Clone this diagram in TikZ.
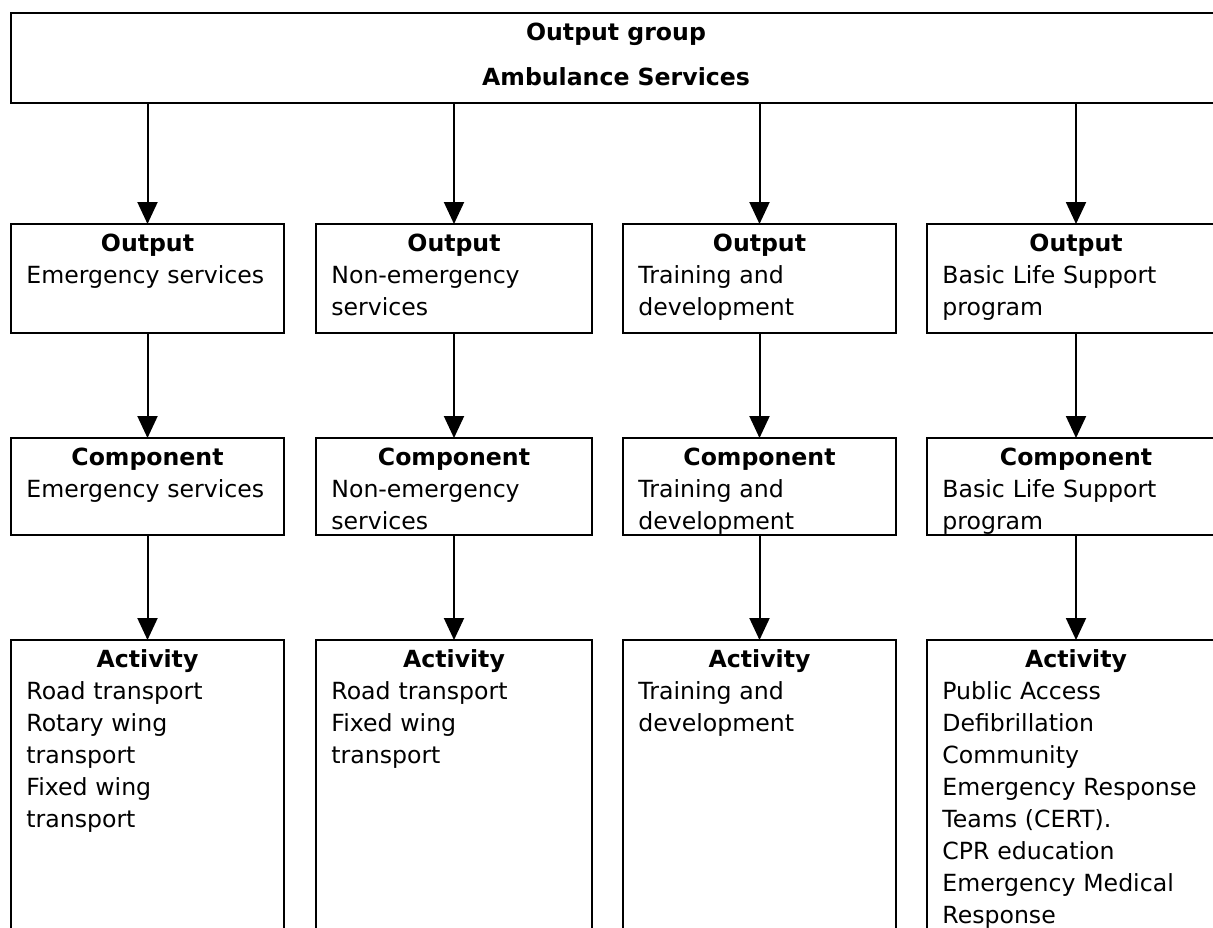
\documentclass[tikz,border=0pt]{standalone}
\usepackage{fontspec}
\setmainfont{DejaVu Sans}
\usetikzlibrary{arrows.meta,positioning}

\begin{document}
\begin{tikzpicture}[x=0.5pt,y=-0.5pt,
    font=\fontsize{11.8pt}{16pt}\selectfont,
    box/.style={draw,line width=1.1pt,rectangle,anchor=north west,inner sep=0pt,outer sep=0pt},
    head/.style={anchor=base,inner sep=0pt,font=\fontsize{11.8pt}{16pt}\selectfont\bfseries},
    body/.style={anchor=base west,align=left,inner sep=0pt,text width=140pt},
    link/.style={line width=1pt,-{Triangle[length=11pt,width=10pt]}}]
    \clip (0,0) rectangle (1213,927);

    % output group
    \node[box,minimum width=614.5pt,minimum height=45pt] (grp) at (11,13) {};
    \node[head] (grpt) at (616,40) {Output group};
    \node[head] (grpn) at (616,85) {Ambulance Services};

    % outputs
    \node[box,minimum width=136.5pt,minimum height=54.5pt] (out1) at (11,224) {};
    \node[box,minimum width=138pt,minimum height=54.5pt] (out2) at (316,224) {};
    \node[box,minimum width=136.5pt,minimum height=54.5pt] (out3) at (623,224) {};
    \node[box,minimum width=149pt,minimum height=54.5pt] (out4) at (927,224) {};

    % components
    \node[box,minimum width=136.5pt,minimum height=48.5pt] (cmp1) at (11,438) {};
    \node[box,minimum width=138pt,minimum height=48.5pt] (cmp2) at (316,438) {};
    \node[box,minimum width=136.5pt,minimum height=48.5pt] (cmp3) at (623,438) {};
    \node[box,minimum width=149pt,minimum height=48.5pt] (cmp4) at (927,438) {};

    % activities
    \node[box,minimum width=136.5pt,minimum height=160pt] (act1) at (11,640) {};
    \node[box,minimum width=138pt,minimum height=160pt] (act2) at (316,640) {};
    \node[box,minimum width=136.5pt,minimum height=160pt] (act3) at (623,640) {};
    \node[box,minimum width=149pt,minimum height=160pt] (act4) at (927,640) {};

    \foreach \c in {1,...,4} {
        \node[head] (out\c h) at ([yshift=-13.75pt]out\c.north) {Output};
        \node[head] (cmp\c h) at ([yshift=-13.75pt]cmp\c.north) {Component};
        \node[head] (act\c h) at ([yshift=-13.75pt]act\c.north) {Activity};
        \draw[link] (grp.south -| out\c.north) -- (out\c.north);
        \draw[link] (out\c) -- (cmp\c);
        \draw[link] (cmp\c) -- (act\c);
    }

    % texts
    \node[body] (out1t) at ([shift={(7.5pt,-29.75pt)}]out1.north west) {Emergency services};
    \node[body] (out2t) at ([shift={(7.5pt,-29.75pt)}]out2.north west) {Non-emergency\\services};
    \node[body] (out3t) at ([shift={(7.5pt,-29.75pt)}]out3.north west) {Training and\\development};
    \node[body] (out4t) at ([shift={(7.5pt,-29.75pt)}]out4.north west) {Basic Life Support\\program};

    \node[body] (cmp1t) at ([shift={(7.5pt,-29.75pt)}]cmp1.north west) {Emergency services};
    \node[body] (cmp2t) at ([shift={(7.5pt,-29.75pt)}]cmp2.north west) {Non-emergency\\services};
    \node[body] (cmp3t) at ([shift={(7.5pt,-29.75pt)}]cmp3.north west) {Training and\\development};
    \node[body] (cmp4t) at ([shift={(7.5pt,-29.75pt)}]cmp4.north west) {Basic Life Support\\program};

    \node[body] (act1t) at ([shift={(7.5pt,-29.75pt)}]act1.north west) {Road transport\\Rotary wing\\transport\\Fixed wing\\transport};
    \node[body] (act2t) at ([shift={(7.5pt,-29.75pt)}]act2.north west) {Road transport\\Fixed wing\\transport};
    \node[body] (act3t) at ([shift={(7.5pt,-29.75pt)}]act3.north west) {Training and\\development};
    \node[body] (act4t) at ([shift={(7.5pt,-29.75pt)}]act4.north west) {Public Access\\Defibrillation\\Community\\Emergency Response\\Teams (CERT).\\CPR education\\Emergency Medical\\Response};
\end{tikzpicture}
\end{document}
